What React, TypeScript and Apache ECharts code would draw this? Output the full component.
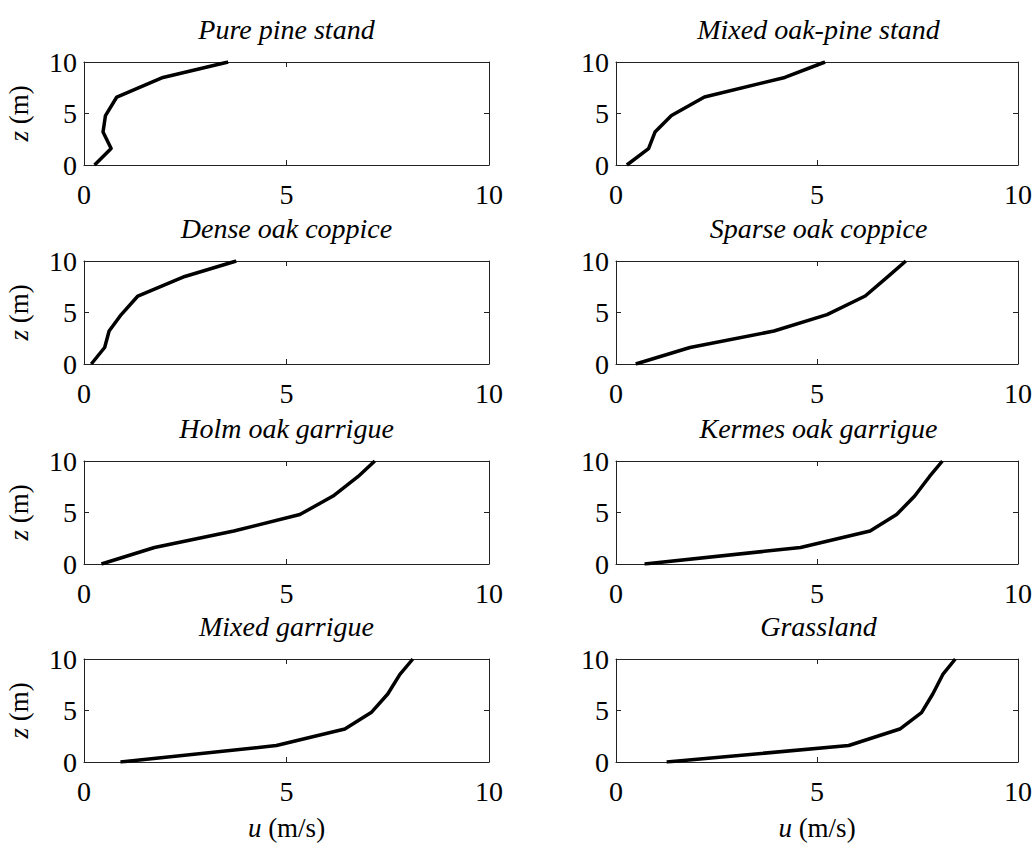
import React, { useEffect, useRef } from "react";
import * as echarts from "echarts";

// Heights of the profile points (m)
const heights = [0, 1.6, 3.2, 4.8, 6.6, 8.5, 10];

// Wind speed u (m/s) at each height, per stand
const uPurePine = [0.26, 0.67, 0.47, 0.53, 0.81, 1.95, 3.56];
const uMixedOakPine = [0.27, 0.81, 0.97, 1.38, 2.2, 4.2, 5.2];
const uDenseOak = [0.18, 0.51, 0.62, 0.92, 1.33, 2.49, 3.76];
const uSparseOak = [0.49, 1.84, 3.93, 5.25, 6.2, 6.77, 7.21];
const uHolmOak = [0.43, 1.74, 3.7, 5.33, 6.15, 6.77, 7.18];
const uKermesOak = [0.71, 4.59, 6.32, 6.98, 7.43, 7.8, 8.12];
const uMixedGarrigue = [0.9, 4.75, 6.44, 7.09, 7.5, 7.8, 8.12];
const uGrassland = [1.26, 5.79, 7.06, 7.6, 7.88, 8.13, 8.44];

const panelTitles = [
  "Pure pine stand",
  "Mixed oak-pine stand",
  "Dense oak coppice",
  "Sparse oak coppice",
  "Holm oak garrigue",
  "Kermes oak garrigue",
  "Mixed garrigue",
  "Grassland",
];
const panelValues = [
  uPurePine,
  uMixedOakPine,
  uDenseOak,
  uSparseOak,
  uHolmOak,
  uKermesOak,
  uMixedGarrigue,
  uGrassland,
];
const xTicks = { min: 0, max: 10, interval: 5 };
const yTicks = { min: 0, max: 10, interval: 5 };

const FONT = "Liberation Serif";
const colLeft = [84, 616];
const rowTop = [62, 261, 461, 659];
const plotW = 405;
const plotH = 103;

export default function App() {
  const ref = useRef<HTMLDivElement>(null);

  useEffect(() => {
    if (!ref.current) return;
    const chart = echarts.init(ref.current, undefined, { renderer: "svg" });

    const grids: any[] = [];
    const xAxes: any[] = [];
    const yAxes: any[] = [];
    const series: any[] = [];
    const titles: any[] = [];

    panelTitles.forEach((t, i) => {
      const col = i % 2;
      const row = Math.floor(i / 2);
      const left = colLeft[col];
      const top = rowTop[row];
      grids.push({ left, top, width: plotW, height: plotH, containLabel: false });

      const lineStyle = { color: "#222", width: 1 };
      const tick = { show: true, inside: true, length: 5, lineStyle: { color: "#222", width: 1 } };

      // bottom x axis
      xAxes.push({
        type: "value",
        gridIndex: i,
        position: "bottom",
        min: xTicks.min,
        max: xTicks.max,
        interval: xTicks.interval,
        axisLine: { show: true, onZero: false, lineStyle },
        axisTick: tick,
        splitLine: { show: false },
        axisLabel: { show: true, fontSize: 28, fontFamily: FONT, color: "#000", margin: 15 },
        name: row === 3 ? "{i|u} (m/s)" : "",
        nameLocation: "middle",
        nameGap: 52,
        nameTextStyle: {
          fontSize: 27,
          fontFamily: FONT,
          color: "#000",
          rich: { i: { fontStyle: "italic", fontSize: 27, fontFamily: FONT, color: "#000" } },
        },
      });
      // top x axis (box)
      xAxes.push({
        type: "value",
        gridIndex: i,
        position: "top",
        min: xTicks.min,
        max: xTicks.max,
        interval: xTicks.interval,
        axisLine: { show: true, onZero: false, lineStyle },
        axisTick: tick,
        splitLine: { show: false },
        axisLabel: { show: false },
      });
      // left y axis
      yAxes.push({
        type: "value",
        gridIndex: i,
        position: "left",
        min: yTicks.min,
        max: yTicks.max,
        interval: yTicks.interval,
        axisLine: { show: true, onZero: false, lineStyle },
        axisTick: tick,
        splitLine: { show: false },
        axisLabel: { show: true, fontSize: 28, fontFamily: FONT, color: "#000", margin: 7 },
        name: col === 0 ? "{i|z} (m)" : "",
        nameLocation: "middle",
        nameRotate: 90,
        nameGap: 52,
        nameTextStyle: {
          fontSize: 27,
          fontFamily: FONT,
          color: "#000",
          rich: { i: { fontStyle: "italic", fontSize: 27, fontFamily: FONT, color: "#000" } },
        },
      });
      // right y axis (box)
      yAxes.push({
        type: "value",
        gridIndex: i,
        position: "right",
        min: yTicks.min,
        max: yTicks.max,
        interval: yTicks.interval,
        axisLine: { show: true, onZero: false, lineStyle },
        axisTick: tick,
        splitLine: { show: false },
        axisLabel: { show: false },
      });

      const u = panelValues[i];
      series.push({
        type: "line",
        xAxisIndex: i * 2,
        yAxisIndex: i * 2,
        data: u.map((v, k) => [v, heights[k]]),
        showSymbol: false,
        symbol: "none",
        lineStyle: { color: "#000", width: 3.5, join: "round" },
        silent: true,
      });

      titles.push({
        text: t,
        left: left + plotW / 2,
        textAlign: "center",
        top: top - 47,
        padding: 0,
        textStyle: {
          fontSize: 28,
          fontFamily: FONT,
          fontStyle: "italic",
          fontWeight: "normal",
          color: "#000",
        },
      });
    });

    chart.setOption({
      animation: false,
      backgroundColor: "#fff",
      textStyle: { fontFamily: FONT },
      title: titles,
      grid: grids,
      xAxis: xAxes,
      yAxis: yAxes,
      series,
    });

    return () => chart.dispose();
  }, []);

  return (
    <div
      ref={ref}
      style={{ position: "fixed", left: 0, top: 0, width: 1035, height: 845, background: "#fff" }}
    />
  );
}
